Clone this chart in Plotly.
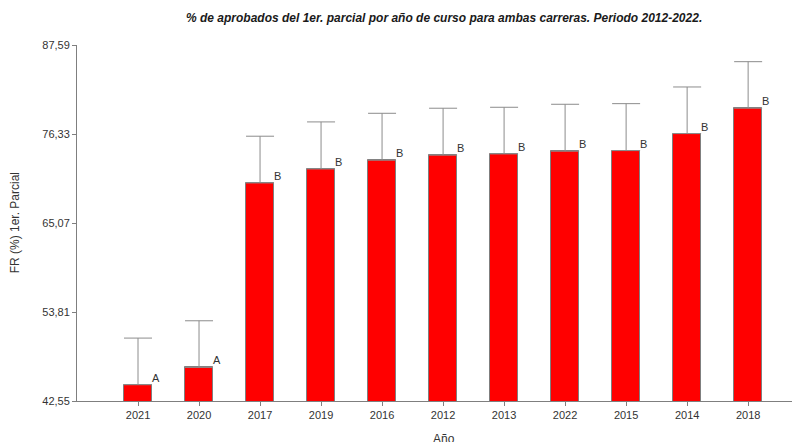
import plotly.graph_objects as go

# Data
years = ["2021", "2020", "2017", "2019", "2016", "2012", "2013", "2022", "2015", "2014", "2018"]
means = [44.61, 46.80, 70.14, 71.91, 73.01, 73.65, 73.81, 74.15, 74.23, 76.38, 79.59]
errors = [5.90, 5.90, 5.91, 5.95, 5.94, 5.94, 5.90, 5.94, 5.94, 5.90, 5.89]
groups = ["A", "A", "B", "B", "B", "B", "B", "B", "B", "B", "B"]
ytick_vals = [42.55, 53.81, 65.07, 76.33, 87.59]
ytick_text = ["42,55", "53,81", "65,07", "76,33", "87,59"]

FONT = "Liberation Sans, Arial, sans-serif"
# page body has an 8px margin; work in page pixels and convert
OFF = 8
W, H = 800 - OFF, 442 - OFF
PL, PT, PB, PR = 77, 45, 401.3, 800          # plot area edges in page pixels
ML, MT = PL - OFF, PT - OFF
MB = H - (PB - OFF)
MR = W - (PR - OFF)
PW = W - ML - MR
PH = H - MT - MB


def px_x(page_x):
    return (page_x - PL) / PW


def px_y(page_y):
    return (PB - page_y) / PH


fig = go.Figure()
fig.add_trace(go.Bar(
    x=list(range(len(years))),
    y=means,
    width=0.46,
    marker=dict(color="#FF0000", line=dict(color="#7f7f7f", width=1)),
    error_y=dict(type="data", array=errors, arrayminus=[0] * len(errors),
                 symmetric=False, color="#8c8c8c", thickness=1, width=14),
    hoverinfo="skip",
))

annotations = []
for i, (m, g) in enumerate(zip(means, groups)):
    annotations.append(dict(
        x=i, y=m, xref="x", yref="y", text=g, showarrow=False,
        xanchor="left", yanchor="bottom", xshift=12, yshift=-1,
        font=dict(family=FONT, size=11, color="#333333"),
    ))

annotations.append(dict(
    x=px_x(444), y=px_y(18), xref="paper", yref="paper",
    yanchor="middle", xanchor="center", showarrow=False,
    text="<b><i>% de aprobados del 1er. parcial por año de curso para ambas carreras. Periodo 2012-2022.</i></b>",
    font=dict(family=FONT, size=12, color="#1a1a1a"),
))
annotations.append(dict(
    x=px_x(443.5), y=px_y(439.5), xref="paper", yref="paper",
    yanchor="middle", xanchor="center", showarrow=False,
    text="Año", font=dict(family=FONT, size=12, color="#333333"),
))
annotations.append(dict(
    x=px_x(15), y=px_y(223.5), xref="paper", yref="paper",
    xanchor="center", yanchor="middle", showarrow=False,
    textangle=-90, text="FR (%) 1er. Parcial",
    font=dict(family=FONT, size=12, color="#333333"),
))

fig.update_layout(
    width=W, height=H,
    margin=dict(l=ML, r=MR, t=MT, b=MB, pad=0),
    plot_bgcolor="white", paper_bgcolor="white",
    showlegend=False,
    font=dict(family=FONT, size=11, color="#333333"),
    annotations=annotations,
    bargap=0,
)
fig.update_xaxes(
    range=[-1.0, 10.85],
    tickmode="array", tickvals=list(range(len(years))), ticktext=years,
    showgrid=False, zeroline=False,
    showline=True, linecolor="#7f7f7f", linewidth=1,
    ticks="outside", ticklen=4, tickcolor="#7f7f7f",
    tickfont=dict(family=FONT, size=11, color="#333333"),
)
fig.update_yaxes(
    range=[42.55, 87.59],
    tickmode="array", tickvals=ytick_vals, ticktext=ytick_text,
    showgrid=False, zeroline=False,
    showline=True, linecolor="#7f7f7f", linewidth=1,
    ticks="outside", ticklen=4, tickcolor="#7f7f7f",
    tickfont=dict(family=FONT, size=11, color="#333333"),
)

fig.write_html("out.html")
